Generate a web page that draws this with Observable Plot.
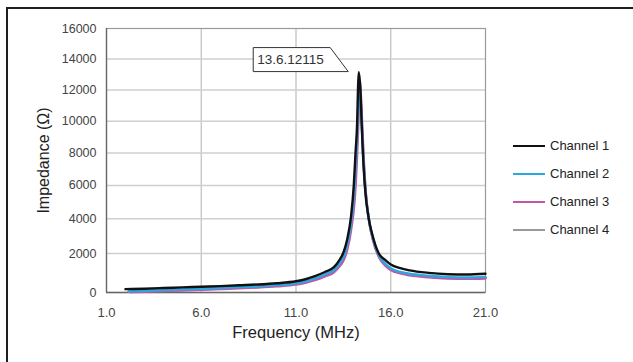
<!DOCTYPE html>
<html>
<head>
<meta charset="utf-8">
<script src="https://cdn.jsdelivr.net/npm/d3@7"></script>
<script src="https://cdn.jsdelivr.net/npm/@observablehq/plot@0.6"></script>
<style>
  html, body { margin: 0; padding: 0; background: #fff; }
  #wrap { position: relative; width: 633px; height: 362px; overflow: hidden; font-family: "Liberation Sans", Arial, Helvetica, sans-serif; }
  #outer { position: absolute; left: 6px; top: 7px; width: 700px; height: 400px; border-top: 2px solid #1e1e1e; border-left: 2px solid #1e1e1e; pointer-events: none; }
  #legend { position: absolute; left: 513px; top: 0; }
  .item { position: absolute; left: 0; width: 120px; height: 16px; }
  .swatch { position: absolute; left: 0; top: 7px; width: 32px; height: 0; }
  .lab { position: absolute; left: 37px; top: 0; font-size: 13px; line-height: 16px; color: #222; white-space: nowrap; }
  svg { position: absolute; left: 0; top: 0; }
</style>
</head>
<body>
<div id="wrap"><div id="outer"></div><div id="legend"></div></div>
<script>
// ---- data ----
const channels = ["Channel 1", "Channel 2", "Channel 3", "Channel 4"];
const colors = ["#111111", "#2aa9e0", "#c256a8", "#9a9a9a"];

const ch1Freq = [2.0, 3, 4, 5, 6, 7, 8, 9, 10, 11, 11.5, 12.0, 12.5, 13.0, 13.3, 13.5, 13.7, 13.9, 14.05, 14.14, 14.23, 14.27, 14.31, 14.40, 14.46, 14.53, 14.63, 14.84, 15.0, 15.37, 15.7, 16.0, 16.5, 17.0, 18.0, 19.0, 20.0, 21.0];
const ch1Z    = [140, 160, 190, 220, 250, 280, 320, 360, 420, 520, 620, 780, 980, 1250, 1650, 2050, 2800, 4100, 6000, 8000, 10000, 12000, 13150, 12000, 10000, 8000, 6000, 4000, 3200, 2000, 1650, 1400, 1200, 1080, 950, 880, 860, 900];

const ch2Freq = [2.16, 3, 4, 5, 6, 7, 8, 9, 10, 11, 11.5, 12.0, 12.5, 13.0, 13.3, 13.5, 13.7, 13.9, 14.08, 14.17, 14.25, 14.30, 14.33, 14.42, 14.48, 14.56, 14.67, 14.88, 15.05, 15.4, 15.7, 16.0, 16.5, 17.0, 18.0, 19.0, 20.0, 21.0];
const ch2Z    = [40, 70, 100, 130, 160, 190, 230, 270, 330, 420, 520, 660, 850, 1100, 1450, 1800, 2500, 3700, 5800, 7800, 9800, 11500, 12100, 11000, 9500, 7500, 5600, 3700, 2900, 1850, 1450, 1200, 1000, 900, 800, 730, 710, 740];

const ch3Freq = [2.27, 3, 4, 5, 6, 7, 8, 9, 10, 11, 11.5, 12.0, 12.5, 13.0, 13.3, 13.5, 13.7, 13.9, 14.1, 14.2, 14.28, 14.33, 14.36, 14.44, 14.5, 14.58, 14.69, 14.9, 15.05, 15.4, 15.7, 16.0, 16.5, 17.0, 18.0, 19.0, 20.0, 21.0];
const ch3Z    = [10, 30, 55, 80, 110, 140, 175, 215, 270, 350, 440, 570, 750, 980, 1300, 1600, 2200, 3300, 5200, 7200, 9500, 11500, 12600, 11300, 9600, 7500, 5500, 3600, 2800, 1750, 1350, 1100, 920, 820, 720, 660, 640, 660];

const ch4Freq = [2.2, 3, 4, 5, 6, 7, 8, 9, 10, 11, 11.5, 12.0, 12.5, 13.0, 13.3, 13.5, 13.7, 13.9, 14.09, 14.18, 14.26, 14.31, 14.34, 14.43, 14.49, 14.57, 14.68, 14.89, 15.05, 15.4, 15.7, 16.0, 16.5, 17.0, 18.0, 19.0, 20.0, 21.0];
const ch4Z    = [30, 55, 85, 115, 145, 175, 210, 250, 310, 400, 490, 630, 820, 1060, 1400, 1750, 2400, 3600, 5600, 7600, 9600, 11300, 11900, 10900, 9400, 7400, 5500, 3650, 2850, 1800, 1400, 1150, 960, 860, 760, 700, 680, 700];

const xTicks = [1.0, 6.0, 11.0, 16.0, 21.0];
const yTicks = [0, 2000, 4000, 6000, 8000, 10000, 12000, 14000, 16000];
const annotationText = "13.6.12115";
const peakFreq = 14.31, peakZ = 13150;

// ---- build table ----
const series = [
  {name: channels[3], f: ch4Freq, z: ch4Z},
  {name: channels[2], f: ch3Freq, z: ch3Z},
  {name: channels[1], f: ch2Freq, z: ch2Z},
  {name: channels[0], f: ch1Freq, z: ch1Z}
];
const rows = series.flatMap(s => s.f.map((f, i) => ({channel: s.name, f, z: s.z[i]})));

const annotation = (index, scales, values, dims) => {
  const tx = scales.x(peakFreq) - 10, ty = scales.y(peakZ);
  const g = d3.create("svg:g");
  g.append("path")
    .attr("d", `M${tx - 95},${ty - 24}H${tx - 18}L${tx},${ty}H${tx - 95}Z`)
    .attr("fill", "#fff").attr("stroke", "#333").attr("stroke-width", 1);
  g.append("text")
    .attr("x", tx - 91).attr("y", ty - 12).attr("dy", "0.35em")
    .attr("text-anchor", "start")
    .attr("font-size", 13.5).attr("fill", "#333")
    .attr("font-family", '"Liberation Sans", Arial, sans-serif')
    .text(annotationText);
  return g.node();
};

const chart = Plot.plot({
  width: 633,
  height: 362,
  marginLeft: 106,
  marginRight: 148,
  marginTop: 28,
  marginBottom: 70,
  style: {fontFamily: '"Liberation Sans", Arial, sans-serif', fontSize: "12.5px", background: "transparent", overflow: "visible"},
  x: {domain: [1, 21]},
  y: {domain: [0, 16000], type: "pow", exponent: 0.92},
  color: {domain: channels, range: colors},
  marks: [
    Plot.gridX(xTicks.slice(1, -1), {stroke: "#bdbdbd", strokeOpacity: 1, strokeWidth: 1.2}),
    Plot.gridY(yTicks.slice(1, -1), {stroke: "#cfcfcf", strokeOpacity: 1, strokeWidth: 1.5}),
    Plot.frame({stroke: "#9a9a9a", strokeWidth: 1.2}),
    Plot.ruleX([1], {stroke: "#666", strokeWidth: 1.3}),
    Plot.ruleY([0], {stroke: "#666", strokeWidth: 1.3}),
    Plot.axisY({ticks: yTicks, tickSize: 0, tickPadding: 10, fontSize: 12.5, color: "#444", tickFormat: d3.format("d"), label: null}),
    Plot.axisX({ticks: xTicks, tickSize: 0, tickPadding: 15, fontSize: 13, color: "#444", tickFormat: d3.format(".1f"), label: null}),
    Plot.text(["Impedance (Ω)"], {frameAnchor: "left", dx: -63, rotate: -90, textAnchor: "middle", fontSize: 16, fill: "#222"}),
    Plot.text(["Frequency (MHz)"], {frameAnchor: "bottom", dy: 45, textAnchor: "middle", fontSize: 16.5, fill: "#222"}),
    Plot.line(rows, {x: "f", y: "z", z: "channel", stroke: "channel", strokeWidth: 2.4, curve: "monotone-x"}),
    annotation
  ]
});
document.getElementById("wrap").appendChild(chart);

// ---- legend ----
const legend = d3.select("#legend");
const legendTops = [138, 166, 194, 222];
channels.forEach((c, i) => {
  const it = legend.append("div").attr("class", "item").style("top", legendTops[i] + "px");
  it.append("div").attr("class", "swatch").style("border-top", `${i === 0 ? 2.6 : 2.4}px solid ${colors[i]}`);
  it.append("div").attr("class", "lab").text(c);
});
</script>
</body>
</html>
